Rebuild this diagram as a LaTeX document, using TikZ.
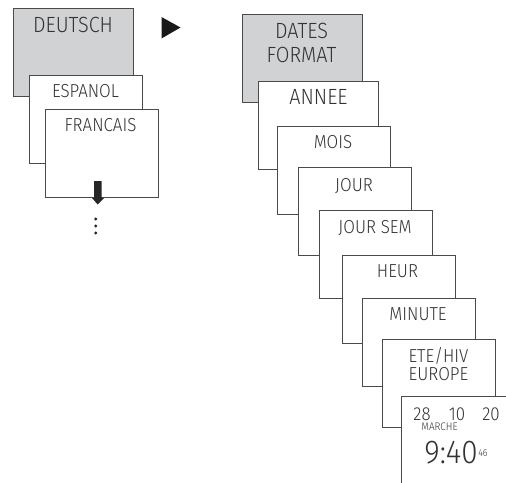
\documentclass[tikz,border=0pt]{standalone}
\usepackage{fontspec}
\setmainfont[FakeStretch=0.9]{Fira Sans Light}
\definecolor{edge}{HTML}{4A4A4A}
\definecolor{ink}{HTML}{333333}
\definecolor{panelgrey}{HTML}{D1D2D4}
\tikzset{
  panel/.style={draw=edge,line width=0.9pt,fill=white,anchor=north west,inner sep=0pt,minimum width=#1},
  panel/.default=113pt,
  small/.style={panel=113pt,minimum height=88pt},
  wide/.style={panel=120pt,minimum height=88pt},
  grey/.style={wide,fill=panelgrey},
  lbl/.style={text=ink,font=\fontsize{18.8}{21}\selectfont,inner sep=0pt,align=center,anchor=base},
  big/.style={lbl,font=\fontsize{22}{25}\selectfont},
  tiny/.style={text=ink,inner sep=0pt,anchor=base}
}
\begin{document}
\begin{tikzpicture}[x=1pt,y=-1pt]
\path[use as bounding box,clip] (0,0) rectangle (506,482);
\fill[white] (0,0) rectangle (506,482);
\node[grey] (de) at (13,8) {};
\node[small] (es) at (29,75) {};
\node[small] (fr) at (44.5,109) {};
\node[big] at (73,32.5) {DEUTSCH};
\node[lbl] at (85.5,97.5) {ESPANOL};
\node[lbl] at (100.5,131.5) {FRANCAIS};
\fill[black!85] (94,181) -- (101.5,181) -- (101.5,198) -- (104,198) -- (97.7,204.5) -- (92,198) -- (94,198) -- cycle;
\foreach \yy in {219,226,233}
  \fill[black!85] (95.7,\yy) circle (1.6);
\fill[black!90] (161.5,17) -- (180.5,27.5) -- (161.5,38.5) -- cycle;
\node[grey] (fmt) at (241.5,13.5) {};
\node[wide] (an) at (258,81) {};
\node[small] (mo) at (276.5,125.5) {};
\node[small] (jo) at (297.5,167) {};
\node[small] (js) at (319,210) {};
\node[small] (he) at (341.5,255) {};
\node[small] (mi) at (362,298) {};
\node[small] (et) at (382,339) {};
\node[panel=130pt,minimum height=110pt] (cl) at (400.5,396) {};
\node[big] at (301.5,38) {DATES};
\node[big] at (301.5,62.5) {FORMAT};
\node[big] at (318.5,104.5) {ANNEE};
\node[lbl] at (333,148) {MOIS};
\node[lbl] at (354,191) {JOUR};
\node[lbl] at (375,233) {JOUR SEM};
\node[lbl] at (397.5,277.5) {HEUR};
\node[lbl] at (418,320) {MINUTE};
\node[lbl] at (438.5,362) {ETE/HIV};
\node[lbl] at (438.5,380) {EUROPE};
\node[tiny,font=\fontsize{18.8}{19}\selectfont] at (422,420) {28};
\node[tiny,font=\fontsize{18.8}{19}\selectfont] at (457,420) {10};
\node[tiny,font=\fontsize{18.8}{19}\selectfont] at (491,420) {20};
\node[tiny,font=\fontsize{11}{11}\selectfont] at (439.5,430) {MARCHE};
\node[tiny,font=\fontsize{33}{33}\selectfont] at (451,463) {9:40};
\node[tiny,font=\fontsize{10}{10}\selectfont] at (483,456) {46};
\end{tikzpicture}
\end{document}
